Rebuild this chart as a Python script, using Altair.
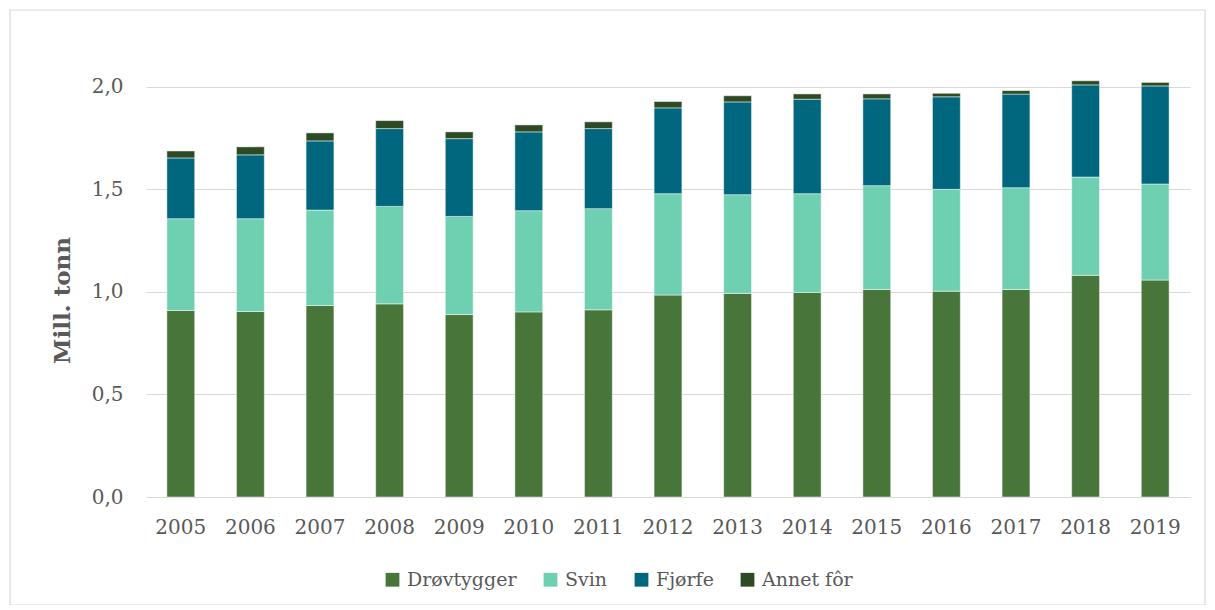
import altair as alt
import pandas as pd

years = ["2005", "2006", "2007", "2008", "2009", "2010", "2011", "2012",
         "2013", "2014", "2015", "2016", "2017", "2018", "2019"]
series = ["Drøvtygger", "Svin", "Fjørfe", "Annet fôr"]
colors = ["#48763A", "#6FCFB1", "#00677F", "#2E4A25"]

drovtygger = [0.909, 0.904, 0.933, 0.941, 0.889, 0.902, 0.912, 0.984,
              0.992, 0.997, 1.011, 1.003, 1.011, 1.080, 1.057]
svin = [0.447, 0.452, 0.465, 0.475, 0.478, 0.493, 0.493, 0.494,
        0.481, 0.481, 0.506, 0.496, 0.496, 0.479, 0.468]
fjorfe = [0.296, 0.311, 0.337, 0.379, 0.379, 0.384, 0.390, 0.418,
          0.452, 0.460, 0.423, 0.451, 0.456, 0.449, 0.478]
annet = [0.034, 0.039, 0.039, 0.039, 0.033, 0.034, 0.033, 0.031,
         0.030, 0.026, 0.024, 0.017, 0.017, 0.020, 0.017]

rows = []
for si, (name, vals) in enumerate(zip(series, [drovtygger, svin, fjorfe, annet])):
    for y, v in zip(years, vals):
        rows.append({"År": y, "Type": name, "Verdi": v, "idx": si})
df = pd.DataFrame(rows)

FONT = "DejaVu Serif"
TXT = "#595959"
GRID = "#d9d9d9"

bars = alt.Chart(df).mark_bar(
    stroke="#ffffff", strokeWidth=0.8, strokeOpacity=0.6
).encode(
    x=alt.X("År:N", sort=years,
            scale=alt.Scale(paddingInner=0.6, paddingOuter=0.3),
            axis=alt.Axis(title=None, labelAngle=0, ticks=False,
                          domainColor=GRID, domainWidth=1.2,
                          labelBaseline="middle", labelPadding=30,
                          labelFont=FONT, labelFontSize=20, labelColor=TXT)),
    y=alt.Y("Verdi:Q", stack="zero",
            scale=alt.Scale(domain=[0, 2.1], nice=False),
            axis=alt.Axis(title="Mill. tonn", values=[0, 0.5, 1.0, 1.5, 2.0],
                          labelExpr="replace(format(datum.value, '.1f'), '.', ',')",
                          ticks=False, domain=False, gridColor=GRID, gridWidth=1.2,
                          labelPadding=23, labelFont=FONT, labelFontSize=20,
                          labelColor=TXT, titleFont=FONT, titleFontSize=23,
                          titleFontWeight="bold", titleColor=TXT,
                          titleX=-84, titleY=234, titleAngle=-90,
                          titleAlign="center", titleBaseline="middle")),
    color=alt.Color("Type:N", sort=series,
                    scale=alt.Scale(domain=series, range=colors),
                    legend=alt.Legend(title=None, orient="none", direction="horizontal",
                                      legendX=237, legendY=504,
                                      symbolType="square", symbolSize=190,
                                      symbolStrokeWidth=0, labelOffset=5,
                                      columnPadding=24,
                                      labelFont=FONT, labelFontSize=19,
                                      labelColor=TXT)),
    order=alt.Order("idx:Q", sort="ascending"),
)

border = alt.Chart(alt.Data(values=[{}])).mark_rect(
    fillOpacity=0, stroke=GRID, strokeWidth=1.2
).encode(
    x=alt.value(-136), x2=alt.value(1059), y=alt.value(-56), y2=alt.value(539)
)

chart = alt.layer(bars, border).properties(
    width=1044, height=431,
    autosize=alt.AutoSizeParams(type="none"),
    padding={"left": 138, "top": 58, "right": 17, "bottom": 108},
).configure_view(stroke=None)

chart.save("out.html", embed_options={"renderer": "svg", "actions": False})
